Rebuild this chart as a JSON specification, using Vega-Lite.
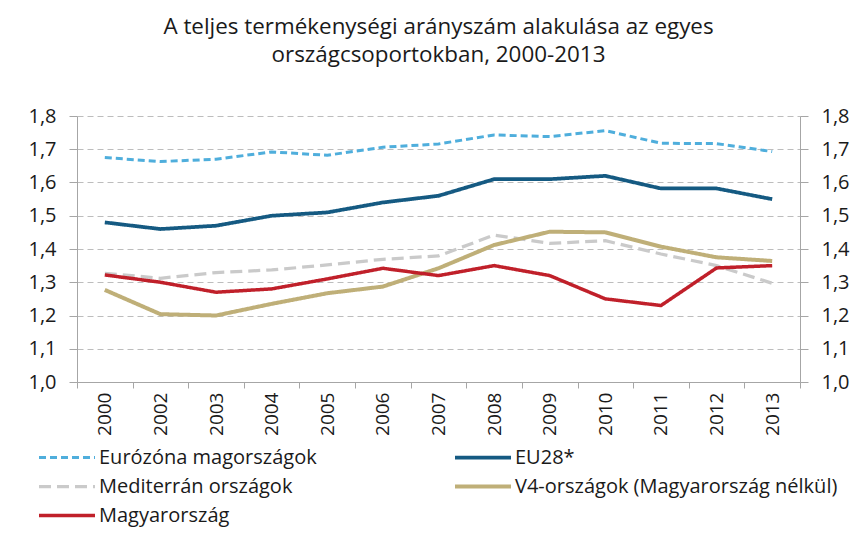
{
  "$schema": "https://vega.github.io/schema/vega-lite/v6.json",
  "width": 723,
  "height": 266,
  "autosize": {"type": "none"},
  "padding": {"left": 77, "top": 116, "right": 54, "bottom": 161},
  "background": "white",
  "title": {
    "text": ["A teljes termékenységi arányszám alakulása az egyes", "országcsoportokban, 2000-2013"],
    "font": "Open Sans",
    "fontSize": 22.4,
    "fontWeight": "normal",
    "color": "#1a1a1a",
    "anchor": "middle",
    "offset": 40,
    "lineHeight": 28
  },
  "config": {
    "view": {"stroke": null},
    "font": "Open Sans",
    "axis": {"labelFont": "Open Sans", "labelColor": "#1a1a1a", "domainColor": "#A6A6A6", "tickColor": "#A6A6A6"},
    "legend": {"labelFont": "Open Sans", "labelColor": "#1a1a1a"}
  },
  "data": {
    "values": [
      {"year": "2000", "series": "Eurózóna magországok", "value": 1.675},
      {"year": "2002", "series": "Eurózóna magországok", "value": 1.663},
      {"year": "2003", "series": "Eurózóna magországok", "value": 1.67},
      {"year": "2004", "series": "Eurózóna magországok", "value": 1.692},
      {"year": "2005", "series": "Eurózóna magországok", "value": 1.682},
      {"year": "2006", "series": "Eurózóna magországok", "value": 1.706},
      {"year": "2007", "series": "Eurózóna magországok", "value": 1.716},
      {"year": "2008", "series": "Eurózóna magországok", "value": 1.743},
      {"year": "2009", "series": "Eurózóna magországok", "value": 1.738},
      {"year": "2010", "series": "Eurózóna magországok", "value": 1.756},
      {"year": "2011", "series": "Eurózóna magországok", "value": 1.718},
      {"year": "2012", "series": "Eurózóna magországok", "value": 1.717},
      {"year": "2013", "series": "Eurózóna magországok", "value": 1.693},
      {"year": "2000", "series": "EU28*", "value": 1.48},
      {"year": "2002", "series": "EU28*", "value": 1.46},
      {"year": "2003", "series": "EU28*", "value": 1.47},
      {"year": "2004", "series": "EU28*", "value": 1.5},
      {"year": "2005", "series": "EU28*", "value": 1.51},
      {"year": "2006", "series": "EU28*", "value": 1.54},
      {"year": "2007", "series": "EU28*", "value": 1.56},
      {"year": "2008", "series": "EU28*", "value": 1.61},
      {"year": "2009", "series": "EU28*", "value": 1.61},
      {"year": "2010", "series": "EU28*", "value": 1.62},
      {"year": "2011", "series": "EU28*", "value": 1.582},
      {"year": "2012", "series": "EU28*", "value": 1.582},
      {"year": "2013", "series": "EU28*", "value": 1.55},
      {"year": "2000", "series": "Mediterrán országok", "value": 1.327},
      {"year": "2002", "series": "Mediterrán országok", "value": 1.312},
      {"year": "2003", "series": "Mediterrán országok", "value": 1.329},
      {"year": "2004", "series": "Mediterrán országok", "value": 1.337},
      {"year": "2005", "series": "Mediterrán országok", "value": 1.352},
      {"year": "2006", "series": "Mediterrán országok", "value": 1.369},
      {"year": "2007", "series": "Mediterrán országok", "value": 1.379},
      {"year": "2008", "series": "Mediterrán országok", "value": 1.442},
      {"year": "2009", "series": "Mediterrán országok", "value": 1.417},
      {"year": "2010", "series": "Mediterrán országok", "value": 1.425},
      {"year": "2011", "series": "Mediterrán országok", "value": 1.385},
      {"year": "2012", "series": "Mediterrán országok", "value": 1.35},
      {"year": "2013", "series": "Mediterrán országok", "value": 1.297},
      {"year": "2000", "series": "V4-országok (Magyarország nélkül)", "value": 1.277},
      {"year": "2002", "series": "V4-országok (Magyarország nélkül)", "value": 1.204},
      {"year": "2003", "series": "V4-országok (Magyarország nélkül)", "value": 1.2},
      {"year": "2004", "series": "V4-országok (Magyarország nélkül)", "value": 1.235},
      {"year": "2005", "series": "V4-országok (Magyarország nélkül)", "value": 1.267},
      {"year": "2006", "series": "V4-országok (Magyarország nélkül)", "value": 1.287},
      {"year": "2007", "series": "V4-országok (Magyarország nélkül)", "value": 1.342},
      {"year": "2008", "series": "V4-országok (Magyarország nélkül)", "value": 1.412},
      {"year": "2009", "series": "V4-országok (Magyarország nélkül)", "value": 1.452},
      {"year": "2010", "series": "V4-országok (Magyarország nélkül)", "value": 1.45},
      {"year": "2011", "series": "V4-országok (Magyarország nélkül)", "value": 1.407},
      {"year": "2012", "series": "V4-országok (Magyarország nélkül)", "value": 1.375},
      {"year": "2013", "series": "V4-országok (Magyarország nélkül)", "value": 1.364},
      {"year": "2000", "series": "Magyarország", "value": 1.322},
      {"year": "2002", "series": "Magyarország", "value": 1.3},
      {"year": "2003", "series": "Magyarország", "value": 1.27},
      {"year": "2004", "series": "Magyarország", "value": 1.28},
      {"year": "2005", "series": "Magyarország", "value": 1.31},
      {"year": "2006", "series": "Magyarország", "value": 1.342},
      {"year": "2007", "series": "Magyarország", "value": 1.32},
      {"year": "2008", "series": "Magyarország", "value": 1.35},
      {"year": "2009", "series": "Magyarország", "value": 1.32},
      {"year": "2010", "series": "Magyarország", "value": 1.25},
      {"year": "2011", "series": "Magyarország", "value": 1.23},
      {"year": "2012", "series": "Magyarország", "value": 1.343},
      {"year": "2013", "series": "Magyarország", "value": 1.35}
    ]
  },
  "encoding": {
    "x": {
      "field": "year",
      "type": "ordinal",
      "bandPosition": 0.5,
      "scale": {"type": "band", "paddingInner": 0, "paddingOuter": 0},
      "axis": {
        "title": null,
        "labelAngle": -90,
        "labelAlign": "right",
        "labelBaseline": "middle",
        "labelFontSize": 19,
        "labelPadding": 4,
        "tickBand": "extent",
        "tickSize": 6,
        "grid": false
      }
    },
    "y": {
      "field": "value",
      "type": "quantitative",
      "scale": {"domain": [1.0, 1.8], "nice": false, "zero": false}
    }
  },
  "layer": [
    {
      "mark": {"type": "line", "interpolate": "linear"},
      "encoding": {
        "y": {
          "field": "value",
          "type": "quantitative",
          "axis": {
            "orient": "left",
            "title": null,
            "values": [1.0, 1.1, 1.2, 1.3, 1.4, 1.5, 1.6, 1.7, 1.8],
            "labelExpr": "replace(format(datum.value, '.1f'), '.', ',')",
            "labelFontSize": 20,
            "labelPadding": 13,
            "tickSize": 8,
            "grid": true,
            "gridDash": [6, 4],
            "gridColor": "#BDBDBD",
            "gridWidth": 1
          }
        },
        "color": {
          "field": "series",
          "type": "nominal",
          "scale": {
            "domain": ["Eurózóna magországok", "Mediterrán országok", "Magyarország", "EU28*", "V4-országok (Magyarország nélkül)"],
            "range": ["#4FAEDC", "#CACACA", "#C0202A", "#155A82", "#BFAF78"]
          },
          "legend": {
            "title": null,
            "orient": "none",
            "legendX": -40,
            "legendY": 327,
            "columns": 2,
            "columnPadding": 136,
            "rowPadding": 0,
            "clipHeight": 29,
            "symbolType": "stroke",
            "symbolSize": 3136,
            "symbolStrokeWidth": 3,
            "labelFontSize": 20,
            "labelLimit": 400,
            "labelOffset": 2
          }
        },
        "strokeDash": {
          "field": "series",
          "type": "nominal",
          "scale": {
            "domain": ["Eurózóna magországok", "Mediterrán országok", "Magyarország", "EU28*", "V4-országok (Magyarország nélkül)"],
            "range": [[7, 4], [12, 6], [1, 0], [1, 0], [1, 0]]
          },
          "legend": {
            "title": null,
            "orient": "none",
            "legendX": -40,
            "legendY": 327,
            "columns": 2,
            "columnPadding": 136,
            "rowPadding": 0,
            "clipHeight": 29,
            "symbolType": "stroke",
            "symbolSize": 3136,
            "symbolStrokeWidth": 3,
            "labelFontSize": 20,
            "labelLimit": 400,
            "labelOffset": 2
          }
        },
        "strokeWidth": {
          "field": "series",
          "type": "nominal",
          "scale": {
            "domain": ["Eurózóna magországok", "Mediterrán országok", "Magyarország", "EU28*", "V4-országok (Magyarország nélkül)"],
            "range": [3, 4, 3, 3, 3]
          },
          "legend": null
        }
      }
    },
    {
      "mark": {"type": "point", "opacity": 0},
      "encoding": {
        "y": {
          "field": "value",
          "type": "quantitative",
          "axis": {
            "orient": "right",
            "title": null,
            "values": [1.0, 1.1, 1.2, 1.3, 1.4, 1.5, 1.6, 1.7, 1.8],
            "labelExpr": "replace(format(datum.value, '.1f'), '.', ',')",
            "labelFontSize": 20,
            "labelPadding": 13,
            "tickSize": 8,
            "grid": false
          }
        }
      }
    }
  ],
  "resolve": {"axis": {"y": "independent"}}
}
